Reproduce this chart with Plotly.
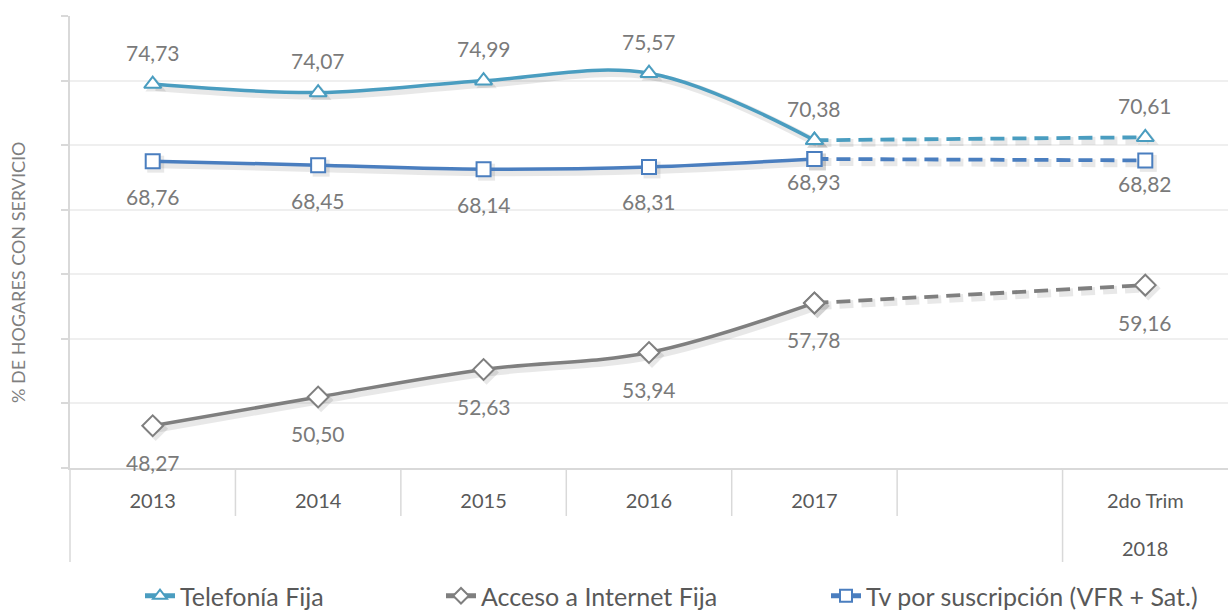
import plotly.graph_objects as go

# ---- data ----
categories = ["2013", "2014", "2015", "2016", "2017", " ", "2do Trim"]
outer_label = "2018"
telefonia = [74.73, 74.07, 74.99, 75.57, 70.38, None, 70.61]
internet = [48.27, 50.50, 52.63, 53.94, 57.78, None, 59.16]
tv = [68.76, 68.45, 68.14, 68.31, 68.93, None, 68.82]
series_names = ["Telefonía Fija", "Acceso a Internet Fija", "Tv por suscripción (VFR + Sat.)"]
y_title = "% DE HOGARES CON SERVICIO"

# ---- style ----
FONT = "Lato"
C_TEL = "#4A9DC0"
C_INT = "#7F7F7F"
C_TV = "#4A7EBF"
LABEL_COLOR = "#7A7A7A"
AXIS_COLOR = "#D9D9D9"
GRID_COLOR = "#EFEFEF"
Y_MIN, Y_MAX = 45, 80
PLOT_H = 452
PLOT_W = 1158
SHADOW_PX = 3
DASH = "14px,8px"

def fmt(v):
    return f"{v:.2f}".replace(".", ",")

fig = go.Figure()

series = [
    (series_names[0], telefonia, C_TEL, "triangle-up", 15, 32),
    (series_names[1], internet, C_INT, "diamond", 16, -37),
    (series_names[2], tv, C_TV, "square", 14, -35),
]

solid_idx = [0, 1, 2, 3, 4]
dash_idx = [4, 5, 6]

# shadow traces on offset overlay axes (x2/y2), real traces on x3/y3 drawn above
dy = SHADOW_PX * (Y_MAX - Y_MIN) / PLOT_H
dx = SHADOW_PX * len(categories) / PLOT_W
SH = "rgba(0,0,0,0.09)"
for name, vals, col, sym, msz, _ in series:
    fig.add_trace(go.Scatter(
        x=[categories[i] for i in solid_idx], y=[vals[i] for i in solid_idx],
        mode="lines+markers", line=dict(color=SH, width=8, shape="spline"),
        marker=dict(symbol=sym, size=msz + 3, color=SH),
        xaxis="x2", yaxis="y2", showlegend=False, hoverinfo="skip"))
    fig.add_trace(go.Scatter(
        x=[categories[i] for i in dash_idx], y=[vals[i] for i in dash_idx],
        mode="lines+markers", connectgaps=True,
        line=dict(color=SH, width=8, dash=DASH),
        marker=dict(symbol=sym, size=msz + 3, color=SH),
        xaxis="x2", yaxis="y2", showlegend=False, hoverinfo="skip"))

for name, vals, col, sym, msz, _ in series:
    fig.add_trace(go.Scatter(
        x=[categories[i] for i in dash_idx], y=[vals[i] for i in dash_idx],
        mode="lines+markers", connectgaps=True,
        line=dict(color=col, width=3.8, dash=DASH),
        marker=dict(symbol=sym, size=msz, color="white", line=dict(color=col, width=2)),
        xaxis="x3", yaxis="y3", showlegend=False, hoverinfo="skip"))

legend_widths = [256, 340, 335]
for k, (name, vals, col, sym, msz, _) in enumerate(series):
    fig.add_trace(go.Scatter(
        x=[categories[i] for i in solid_idx], y=[vals[i] for i in solid_idx],
        mode="lines+markers", name=name,
        line=dict(color=col, width=3.5, shape="spline"),
        marker=dict(symbol=sym, size=msz, color="white", line=dict(color=col, width=2)),
        xaxis="x3", yaxis="y3", legendwidth=legend_widths[k]))

annotations = []
for name, vals, col, sym, msz, shift in series:
    for i, v in enumerate(vals):
        if v is None:
            continue
        s = shift
        if name == series_names[2] and i >= 4:
            s = -23
        annotations.append(dict(x=i, y=v, text=fmt(v), showarrow=False,
                                xanchor="center", yanchor="middle",
                                yshift=s, font=dict(family=FONT, size=21, color=LABEL_COLOR)))

annotations.append(dict(x=len(categories) - 1, y=-(548 - 468) / PLOT_H, yref="paper",
                        text=outer_label, showarrow=False, xanchor="center", yanchor="middle",
                        font=dict(family=FONT, size=20, color="#595959")))
annotations.append(dict(x=(18 - 70) / PLOT_W, xref="paper", y=(468 - 272) / PLOT_H, yref="paper",
                        text=y_title, textangle=-90, showarrow=False,
                        xanchor="center", yanchor="middle",
                        font=dict(family=FONT, size=18, color="#7F7F7F")))

shapes = []
# category separators
for i in range(1, len(categories)):
    y1 = -94 / PLOT_H if i == len(categories) - 1 else -48 / PLOT_H
    shapes.append(dict(type="line", xref="x", yref="paper", x0=i - 0.5, x1=i - 0.5,
                       y0=0, y1=y1, line=dict(color=AXIS_COLOR, width=1.5)))
# left axis extension
shapes.append(dict(type="line", xref="paper", yref="paper", x0=0, x1=0, y0=0, y1=-94 / PLOT_H,
                   line=dict(color=AXIS_COLOR, width=1.5)))

cat_axis = dict(type="category", categoryorder="array", categoryarray=categories)
fig.update_layout(
    width=1228, height=611,
    margin=dict(l=70, r=0, t=16, b=143, autoexpand=False),
    paper_bgcolor="white", plot_bgcolor="white",
    font=dict(family=FONT, color="#595959"),
    xaxis=dict(**cat_axis,
               range=[-0.5, len(categories) - 0.5], showgrid=False, showline=True,
               linecolor=AXIS_COLOR, linewidth=1.5, ticks="", ticklabelstandoff=14,
               tickfont=dict(family=FONT, size=20, color="#595959"), zeroline=False),
    xaxis2=dict(**cat_axis, range=[-0.5 - dx, len(categories) - 0.5 - dx],
                overlaying="x", visible=False),
    xaxis3=dict(**cat_axis, range=[-0.5, len(categories) - 0.5],
                overlaying="x", visible=False),
    yaxis=dict(range=[Y_MIN, Y_MAX], dtick=5, tick0=45, showgrid=True, gridcolor=GRID_COLOR,
               gridwidth=1.5, showline=True, linecolor=AXIS_COLOR, linewidth=1.5,
               ticks="outside", ticklen=7, tickcolor=AXIS_COLOR, tickwidth=1.5,
               showticklabels=False, zeroline=False),
    yaxis2=dict(range=[Y_MIN + dy, Y_MAX + dy], overlaying="y", visible=False),
    yaxis3=dict(range=[Y_MIN, Y_MAX], overlaying="y", visible=False),
    showlegend=True,
    legend=dict(orientation="h", x=(140 - 70) / PLOT_W, xanchor="left",
                y=-(596 - 468) / PLOT_H, yanchor="middle",
                font=dict(family=FONT, size=25, color="#595959"), itemsizing="constant"),
    annotations=annotations,
    shapes=shapes,
)

fig.write_html("out.html", config={"displayModeBar": False},
               post_script="document.body.style.margin='0';document.body.style.overflow='hidden';")
